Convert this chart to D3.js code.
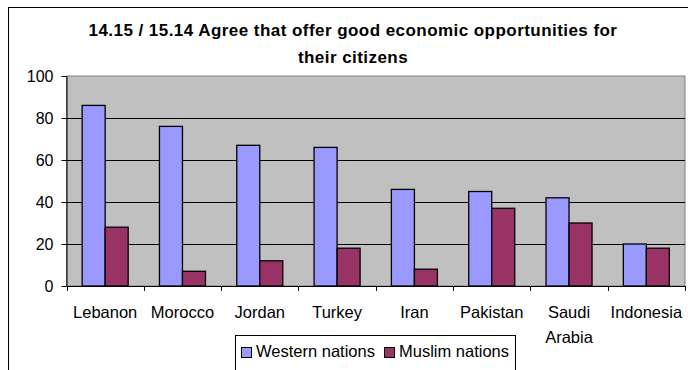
<!DOCTYPE html>
<html>
<head>
<meta charset="utf-8">
<script src="https://cdn.jsdelivr.net/npm/d3@7"></script>
<style>
  html, body { margin: 0; padding: 0; background: #fff; }
  svg { display: block; font-family: "Liberation Sans", Arial, sans-serif; }
</style>
</head>
<body>
<svg id="chart" width="688" height="370"></svg>
<script>
// Survey results: share agreeing that each group of nations offers good economic opportunities
const countries = ["Lebanon", "Morocco", "Jordan", "Turkey", "Iran", "Pakistan", "Saudi Arabia", "Indonesia"];
const seriesNames = ["Western nations", "Muslim nations"];
const western = [86, 76, 67, 66, 46, 45, 42, 20];
const muslim = [28, 7, 12, 18, 8, 37, 30, 18];
const yTicks = [0, 20, 40, 60, 80, 100];
const titleLines = ["14.15 / 15.14 Agree that offer good economic opportunities for", "their citizens"];

const colors = { "Western nations": "#9999FF", "Muslim nations": "#993366" };
const seriesValues = { "Western nations": western, "Muslim nations": muslim };

const svg = d3.select("#chart");

// Chart frame (extends beyond the visible canvas on the right and bottom)
svg.append("rect")
  .attr("x", 8.5).attr("y", 7.5)
  .attr("width", 720).attr("height", 420)
  .attr("fill", "#fff").attr("stroke", "#000").attr("stroke-width", 1);

const plot = { left: 66.5, right: 685, top: 76, bottom: 286 };

const x0 = d3.scaleBand().domain(countries).range([plot.left, plot.right]).paddingInner(0).paddingOuter(0);
const x1 = d3.scaleBand().domain(seriesNames).range([0, x0.bandwidth()]).paddingInner(0).paddingOuter(0.68);
const y = d3.scaleLinear().domain([0, 100]).range([plot.bottom, plot.top]);

// Plot area background
svg.append("rect")
  .attr("x", plot.left).attr("y", plot.top)
  .attr("width", plot.right - plot.left).attr("height", plot.bottom - plot.top)
  .attr("fill", "#C0C0C0").attr("stroke", "#808080").attr("stroke-width", 1);

// Horizontal gridlines
svg.append("g")
  .selectAll("line")
  .data(yTicks.filter(t => t > 0 && t < 100))
  .join("line")
  .attr("x1", plot.left).attr("x2", plot.right)
  .attr("y1", d => Math.round(y(d)) + 0.5).attr("y2", d => Math.round(y(d)) + 0.5)
  .attr("stroke", "#000").attr("stroke-width", 1);

// Bars
const groups = svg.append("g")
  .selectAll("g")
  .data(countries)
  .join("g")
  .attr("transform", d => `translate(${x0(d)},0)`);

groups.selectAll("rect")
  .data((c, i) => seriesNames.map(s => ({ s, v: seriesValues[s][i] })))
  .join("rect")
  .attr("x", d => x1(d.s))
  .attr("y", d => y(d.v))
  .attr("width", x1.bandwidth())
  .attr("height", d => y(0) - y(d.v))
  .attr("fill", d => colors[d.s])
  .attr("stroke", "#000").attr("stroke-width", 1.3);

// Y axis
const yAxis = svg.append("g")
  .attr("transform", `translate(${plot.left},0)`)
  .call(d3.axisLeft(y).tickValues(yTicks).tickSize(5).tickPadding(8).tickSizeOuter(0));
yAxis.select(".domain").attr("stroke", "#000");
yAxis.selectAll(".tick line").attr("stroke", "#000");
yAxis.selectAll(".tick text")
  .attr("font-size", 16).attr("fill", "#000")
  .style("font-family", "'Liberation Sans', Arial, sans-serif");

// X axis with ticks on category boundaries
const boundaries = countries.map(c => x0(c)).concat([plot.right]);
const xAxis = svg.append("g");
xAxis.append("line")
  .attr("x1", plot.left).attr("x2", plot.right)
  .attr("y1", plot.bottom + 0.5).attr("y2", plot.bottom + 0.5)
  .attr("stroke", "#000");
xAxis.selectAll("line.tk")
  .data(boundaries)
  .join("line").attr("class", "tk")
  .attr("x1", d => Math.round(d) + 0.5).attr("x2", d => Math.round(d) + 0.5)
  .attr("y1", plot.bottom).attr("y2", plot.bottom + 5)
  .attr("stroke", "#000");

const labels = xAxis.selectAll("text")
  .data(countries)
  .join("text")
  .attr("x", d => x0(d) + x0.bandwidth() / 2)
  .attr("y", 317.5)
  .attr("text-anchor", "middle")
  .attr("font-size", 16.5)
  .attr("fill", "#000");
labels.each(function (d) {
  const words = d.split(" ");
  const t = d3.select(this);
  words.forEach((w, i) => {
    t.append("tspan")
      .attr("x", x0(d) + x0.bandwidth() / 2)
      .attr("dy", i === 0 ? 0 : 25)
      .text(w);
  });
});

// Title
svg.append("text")
  .attr("x", 353).attr("y", 36)
  .attr("text-anchor", "middle")
  .attr("font-size", 17).attr("font-weight", "bold")
  .attr("letter-spacing", 0.45)
  .selectAll("tspan")
  .data(titleLines)
  .join("tspan")
  .attr("x", 353)
  .attr("dy", (d, i) => i === 0 ? 0 : 26.5)
  .text(d => d);

// Legend
const legend = svg.append("g");
legend.append("rect")
  .attr("x", 235.5).attr("y", 335.5)
  .attr("width", 280).attr("height", 60)
  .attr("fill", "#fff").attr("stroke", "#000");
const legendX = [241, 384];
const items = legend.selectAll("g")
  .data(seriesNames)
  .join("g")
  .attr("transform", (d, i) => `translate(${legendX[i]},0)`);
items.append("rect")
  .attr("x", 0.5).attr("y", 347.5)
  .attr("width", 10).attr("height", 10)
  .attr("fill", d => colors[d]).attr("stroke", "#000");
items.append("text")
  .attr("x", 15).attr("y", 357)
  .attr("font-size", 16.5)
  .text(d => d);
</script>
</body>
</html>
